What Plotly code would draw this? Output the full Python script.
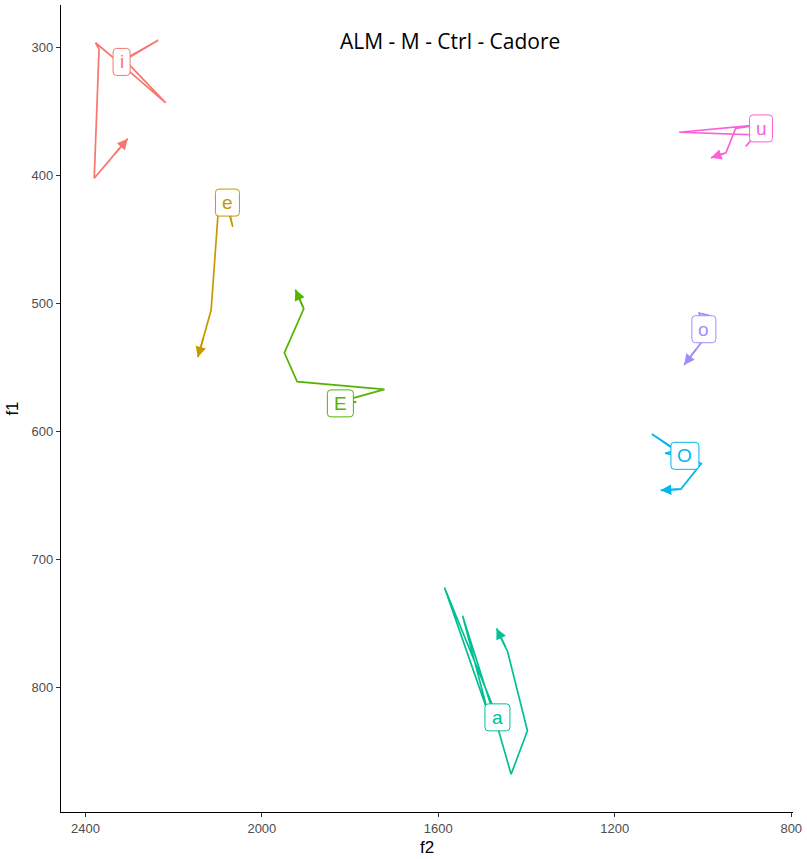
import math
import plotly.graph_objects as go

# Formant trajectories (f2, f1 in Hz); first point is labelled, last point carries the arrow
vowels = ["i", "e", "E", "a", "O", "o", "u"]
colors = ["#F8766D", "#C49A00", "#53B400", "#00C094", "#00B6EB", "#A58AFF", "#FB61D7"]

i_f2 = [2318, 2235, 2312, 2218, 2322, 2377, 2369, 2380, 2304]
i_f1 = [311, 294, 309, 343, 312, 296, 301, 402, 371]

e_f2 = [2078, 2066, 2076, 2097, 2115, 2145]
e_f1 = [421, 440, 427, 419, 505, 542]

E_f2 = [1822, 1786, 1810, 1722, 1920, 1949, 1905, 1924]
E_f1 = [578, 577, 575.5, 567, 561, 538.5, 504, 489]

a_f2 = [1466, 1586, 1487, 1545, 1469, 1435, 1398, 1443, 1468]
a_f1 = [823.5, 722, 820, 744, 827, 868, 834, 772, 754]

O_f2 = [1041, 1116, 1061, 1086, 1032, 1004, 1050, 1096]
O_f1 = [619, 602, 615, 617, 621, 625, 645, 646]

o_f2 = [998, 1009, 988, 984, 1043]
o_f1 = [520, 507.5, 509, 521.5, 548]

u_f2 = [868.5, 903, 880, 1054, 868.5, 926, 948, 982]
u_f1 = [363, 377, 368, 366, 360, 363, 382, 386]

f2_series = [i_f2, e_f2, E_f2, a_f2, O_f2, o_f2, u_f2]
f1_series = [i_f1, e_f1, E_f1, a_f1, O_f1, o_f1, u_f1]

x_ticks = [2400, 2000, 1600, 1200, 800]
y_ticks = [300, 400, 500, 600, 700, 800]

title_text = "ALM - M - Ctrl - Cadore"

W, H = 807, 859
margin = dict(l=61, r=12, t=5, b=47)
x_range = [2455.3, 796]
y_range = [897.5, 266.5]

# label box widths in pixels (text width + padding)
box_w = {"i": 17, "e": 24, "E": 26, "a": 25, "O": 28, "o": 24, "u": 23}
box_h = 27
rad = 3.5
max_shaft = 22  # px of the last segment redrawn by the arrow annotation

# pixels per data unit on each axis
sx = (W - margin["l"] - margin["r"]) / abs(x_range[0] - x_range[1])
sy = (H - margin["t"] - margin["b"]) / abs(y_range[0] - y_range[1])

fig = go.Figure()
shapes = []
annotations = []


def rounded_box(w, h, r):
    x0, x1, y0, y1 = -w / 2, w / 2, -h / 2, h / 2
    return (f"M {x0 + r},{y0} L {x1 - r},{y0} Q {x1},{y0} {x1},{y0 + r} "
            f"L {x1},{y1 - r} Q {x1},{y1} {x1 - r},{y1} "
            f"L {x0 + r},{y1} Q {x0},{y1} {x0},{y1 - r} "
            f"L {x0},{y0 + r} Q {x0},{y0} {x0 + r},{y0} Z")


for v, c, xs, ys in zip(vowels, colors, f2_series, f1_series):
    fig.add_trace(go.Scatter(
        x=xs, y=ys, mode="lines",
        line=dict(color=c, width=1.7),
        showlegend=False, hoverinfo="skip",
    ))
    # arrowhead on the final segment; x axis is reversed, y axis points down
    dx = -(xs[-2] - xs[-1]) * sx
    dy = (ys[-2] - ys[-1]) * sy
    seg = math.hypot(dx, dy)
    k = min(1.0, max_shaft / seg)
    annotations.append(dict(
        x=xs[-1], y=ys[-1], ax=dx * k, ay=dy * k,
        xref="x", yref="y", axref="pixel", ayref="pixel",
        text="", showarrow=True, arrowhead=2, arrowsize=1.25,
        arrowwidth=1.7, arrowcolor=c, standoff=0,
    ))
    # label box at the first point
    shapes.append(dict(
        type="path", xref="x", yref="y",
        xsizemode="pixel", ysizemode="pixel",
        xanchor=xs[0], yanchor=ys[0],
        path=rounded_box(box_w[v], box_h, rad),
        fillcolor="white", line=dict(color=c, width=1),
        layer="above", opacity=1,
    ))
    annotations.append(dict(
        x=xs[0], y=ys[0], xref="x", yref="y",
        text=v, showarrow=False,
        font=dict(family="Liberation Sans, Arial", size=19, color=c),
    ))

annotations.append(dict(
    x=0.532, y=0.956, xref="paper", yref="paper",
    xanchor="center", yanchor="middle",
    text=title_text, showarrow=False,
    font=dict(family="Open Sans", size=21, color="black"),
))

fig.update_layout(
    width=W, height=H,
    margin=margin,
    paper_bgcolor="white", plot_bgcolor="white",
    shapes=shapes, annotations=annotations,
    font=dict(family="Liberation Sans, Arial"),
)
fig.update_xaxes(
    range=x_range, tickvals=x_ticks,
    showline=True, linecolor="black", linewidth=1.2,
    ticks="outside", ticklen=4, tickcolor="#333333", tickwidth=1.1,
    tickfont=dict(size=13, color="#4D4D4D"),
    showgrid=False, zeroline=False,
    title=dict(text="f2", font=dict(size=17, color="black"), standoff=6),
)
fig.update_yaxes(
    range=y_range, tickvals=y_ticks,
    showline=True, linecolor="black", linewidth=1.2,
    ticks="outside", ticklen=4, tickcolor="#333333", tickwidth=1.1,
    tickfont=dict(size=13, color="#4D4D4D"),
    showgrid=False, zeroline=False,
    title=dict(text="f1", font=dict(size=17, color="black"), standoff=8),
)

fig.write_html("out.html")
